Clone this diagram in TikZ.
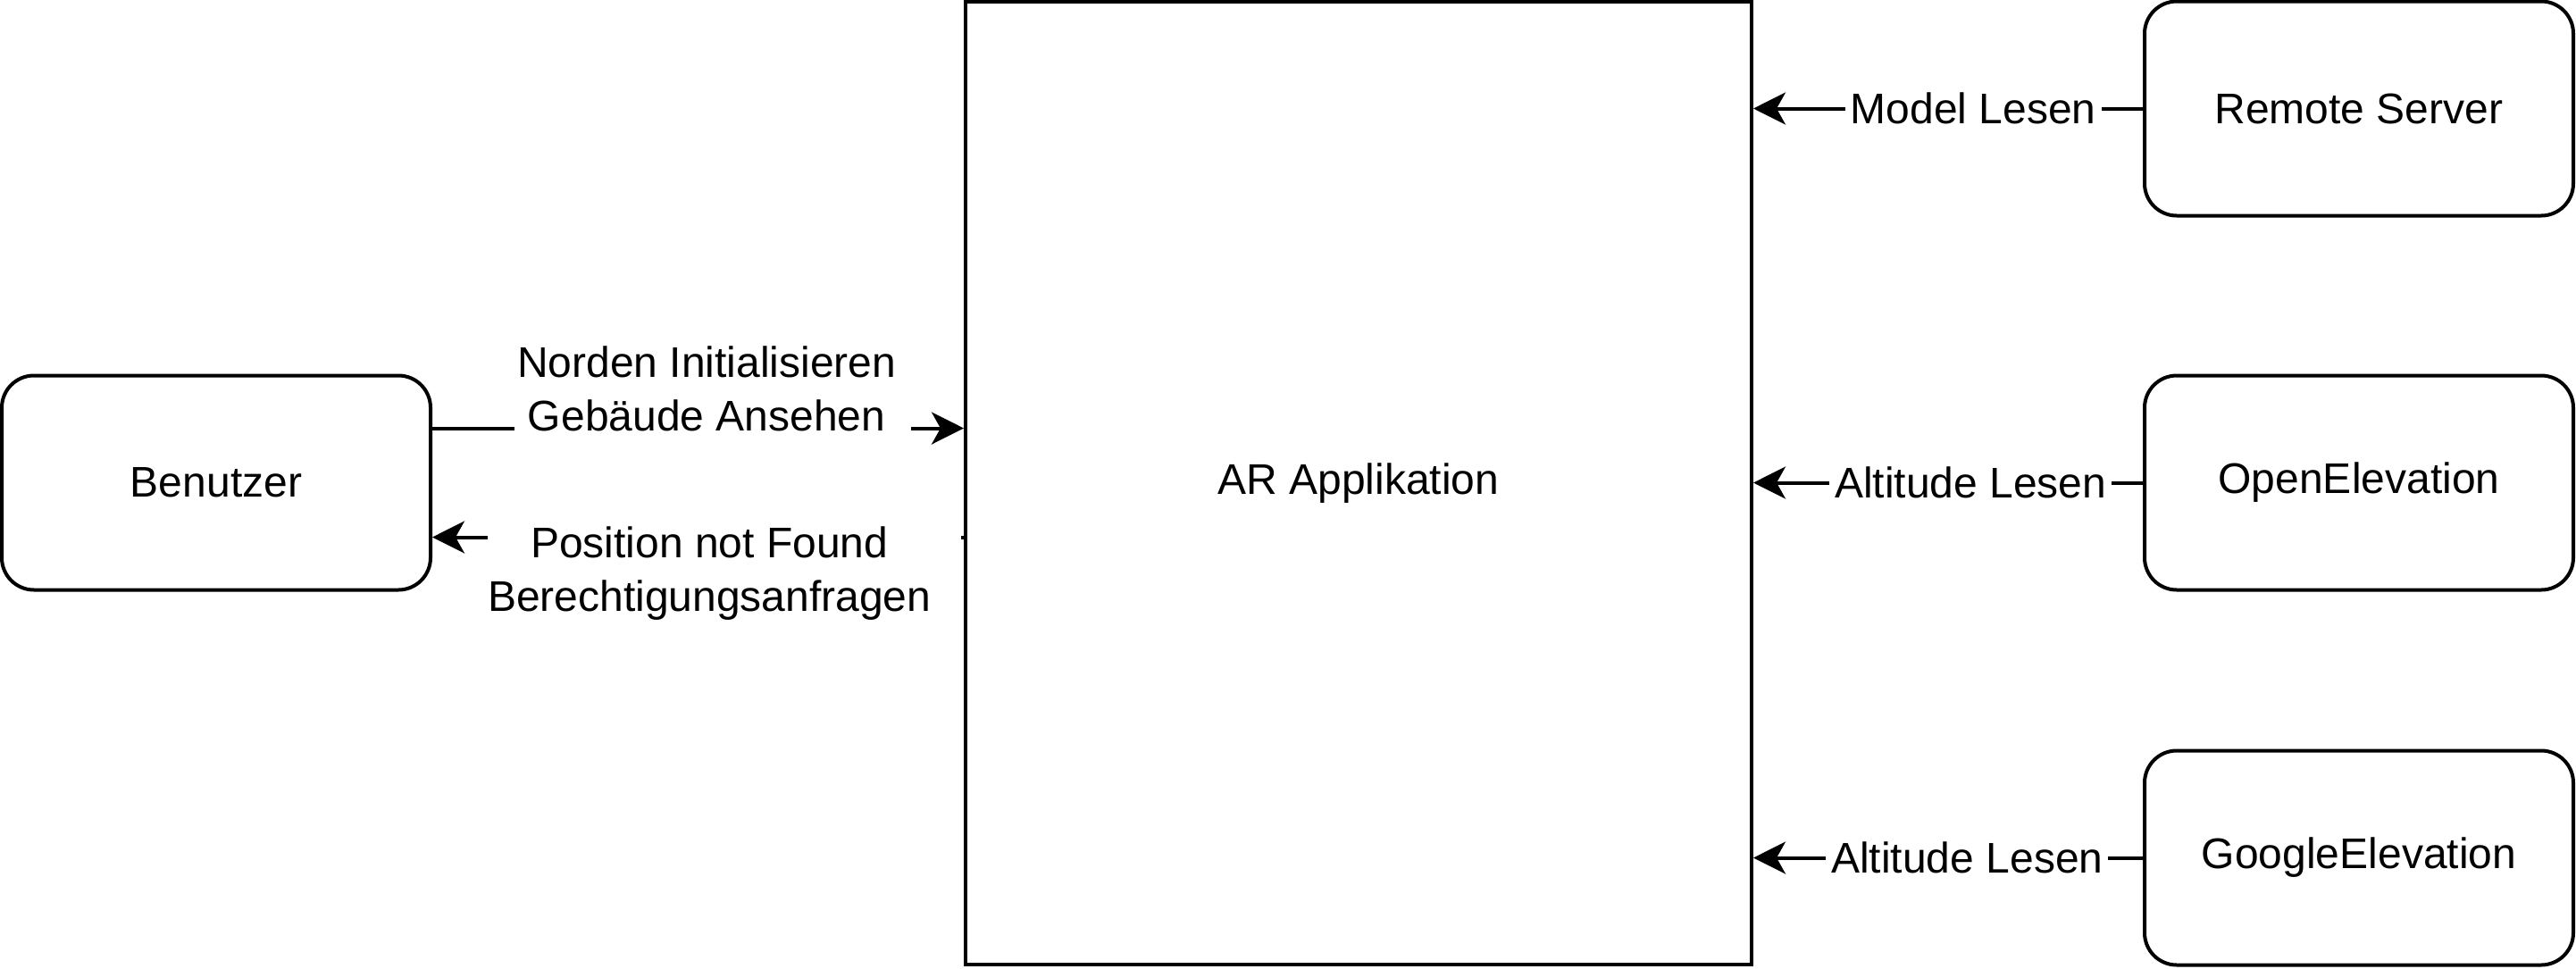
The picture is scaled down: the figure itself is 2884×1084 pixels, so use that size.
\documentclass[tikz,border=0pt]{standalone}
\usepackage{fontspec}
\setmainfont{Liberation Sans}
\usetikzlibrary{arrows.meta,calc}
\begin{document}
\begin{tikzpicture}[x=0.25pt,y=-0.25pt,
  every node/.style={font=\fontsize{12pt}{15pt}\selectfont},
  box/.style={draw,line width=1pt,rounded corners=9pt,minimum width=120pt,minimum height=60pt,inner sep=0pt},
  bigbox/.style={draw,line width=1pt,minimum width=220pt,minimum height=269.5pt,inner sep=0pt},
  conn/.style={line width=1pt,-{Stealth[length=9pt,width=9pt,inset=2.5pt]}},
  lbl/.style={fill=white,inner sep=1.5pt,align=center}]
\useasboundingbox (0,0) rectangle (2884,1084);
\node[box] (ben) at (242,540.5) {Benutzer};
\node[box] (rs) at (2641,121.5) {Remote Server};
\node[box] (oe) at (2641,540.5) {OpenElevation};
\node[box] (ge) at (2641,960.5) {GoogleElevation};
\node[bigbox] (ar) at (1521,541) {AR Applikation};

\coordinate (b1) at ($(ben.north east)!0.25!(ben.south east)$);
\coordinate (b2) at ($(ben.north east)!0.75!(ben.south east)$);

\draw[conn] (b1) -- (ar.west |- b1)
  node[lbl,pos=0.528,yshift=9.75pt,inner xsep=0pt,minimum width=111pt]
  {\begin{tabular}{@{}c@{}}Norden Initialisieren\\Gebäude Ansehen\end{tabular}\hspace{3.5pt}};
\draw[conn] (ar.west |- b2) -- (b2)
  node[lbl,pos=0.45,yshift=-10.2pt,inner xsep=0pt]
  {\begin{tabular}{@{}c@{}}Position not Found\\Berechtigungsanfragen\end{tabular}\hspace{8.5pt}};

\draw[conn] (rs.west) -- (ar.east |- rs.west) node[lbl,pos=0.435] {Model Lesen};
\draw[conn] (oe.west) -- (ar.east |- oe.west) node[lbl,pos=0.442] {Altitude Lesen};
\draw[conn] (ge.west) -- (ar.east |- ge.west) node[lbl,pos=0.451] {Altitude Lesen};
\end{tikzpicture}
\end{document}
